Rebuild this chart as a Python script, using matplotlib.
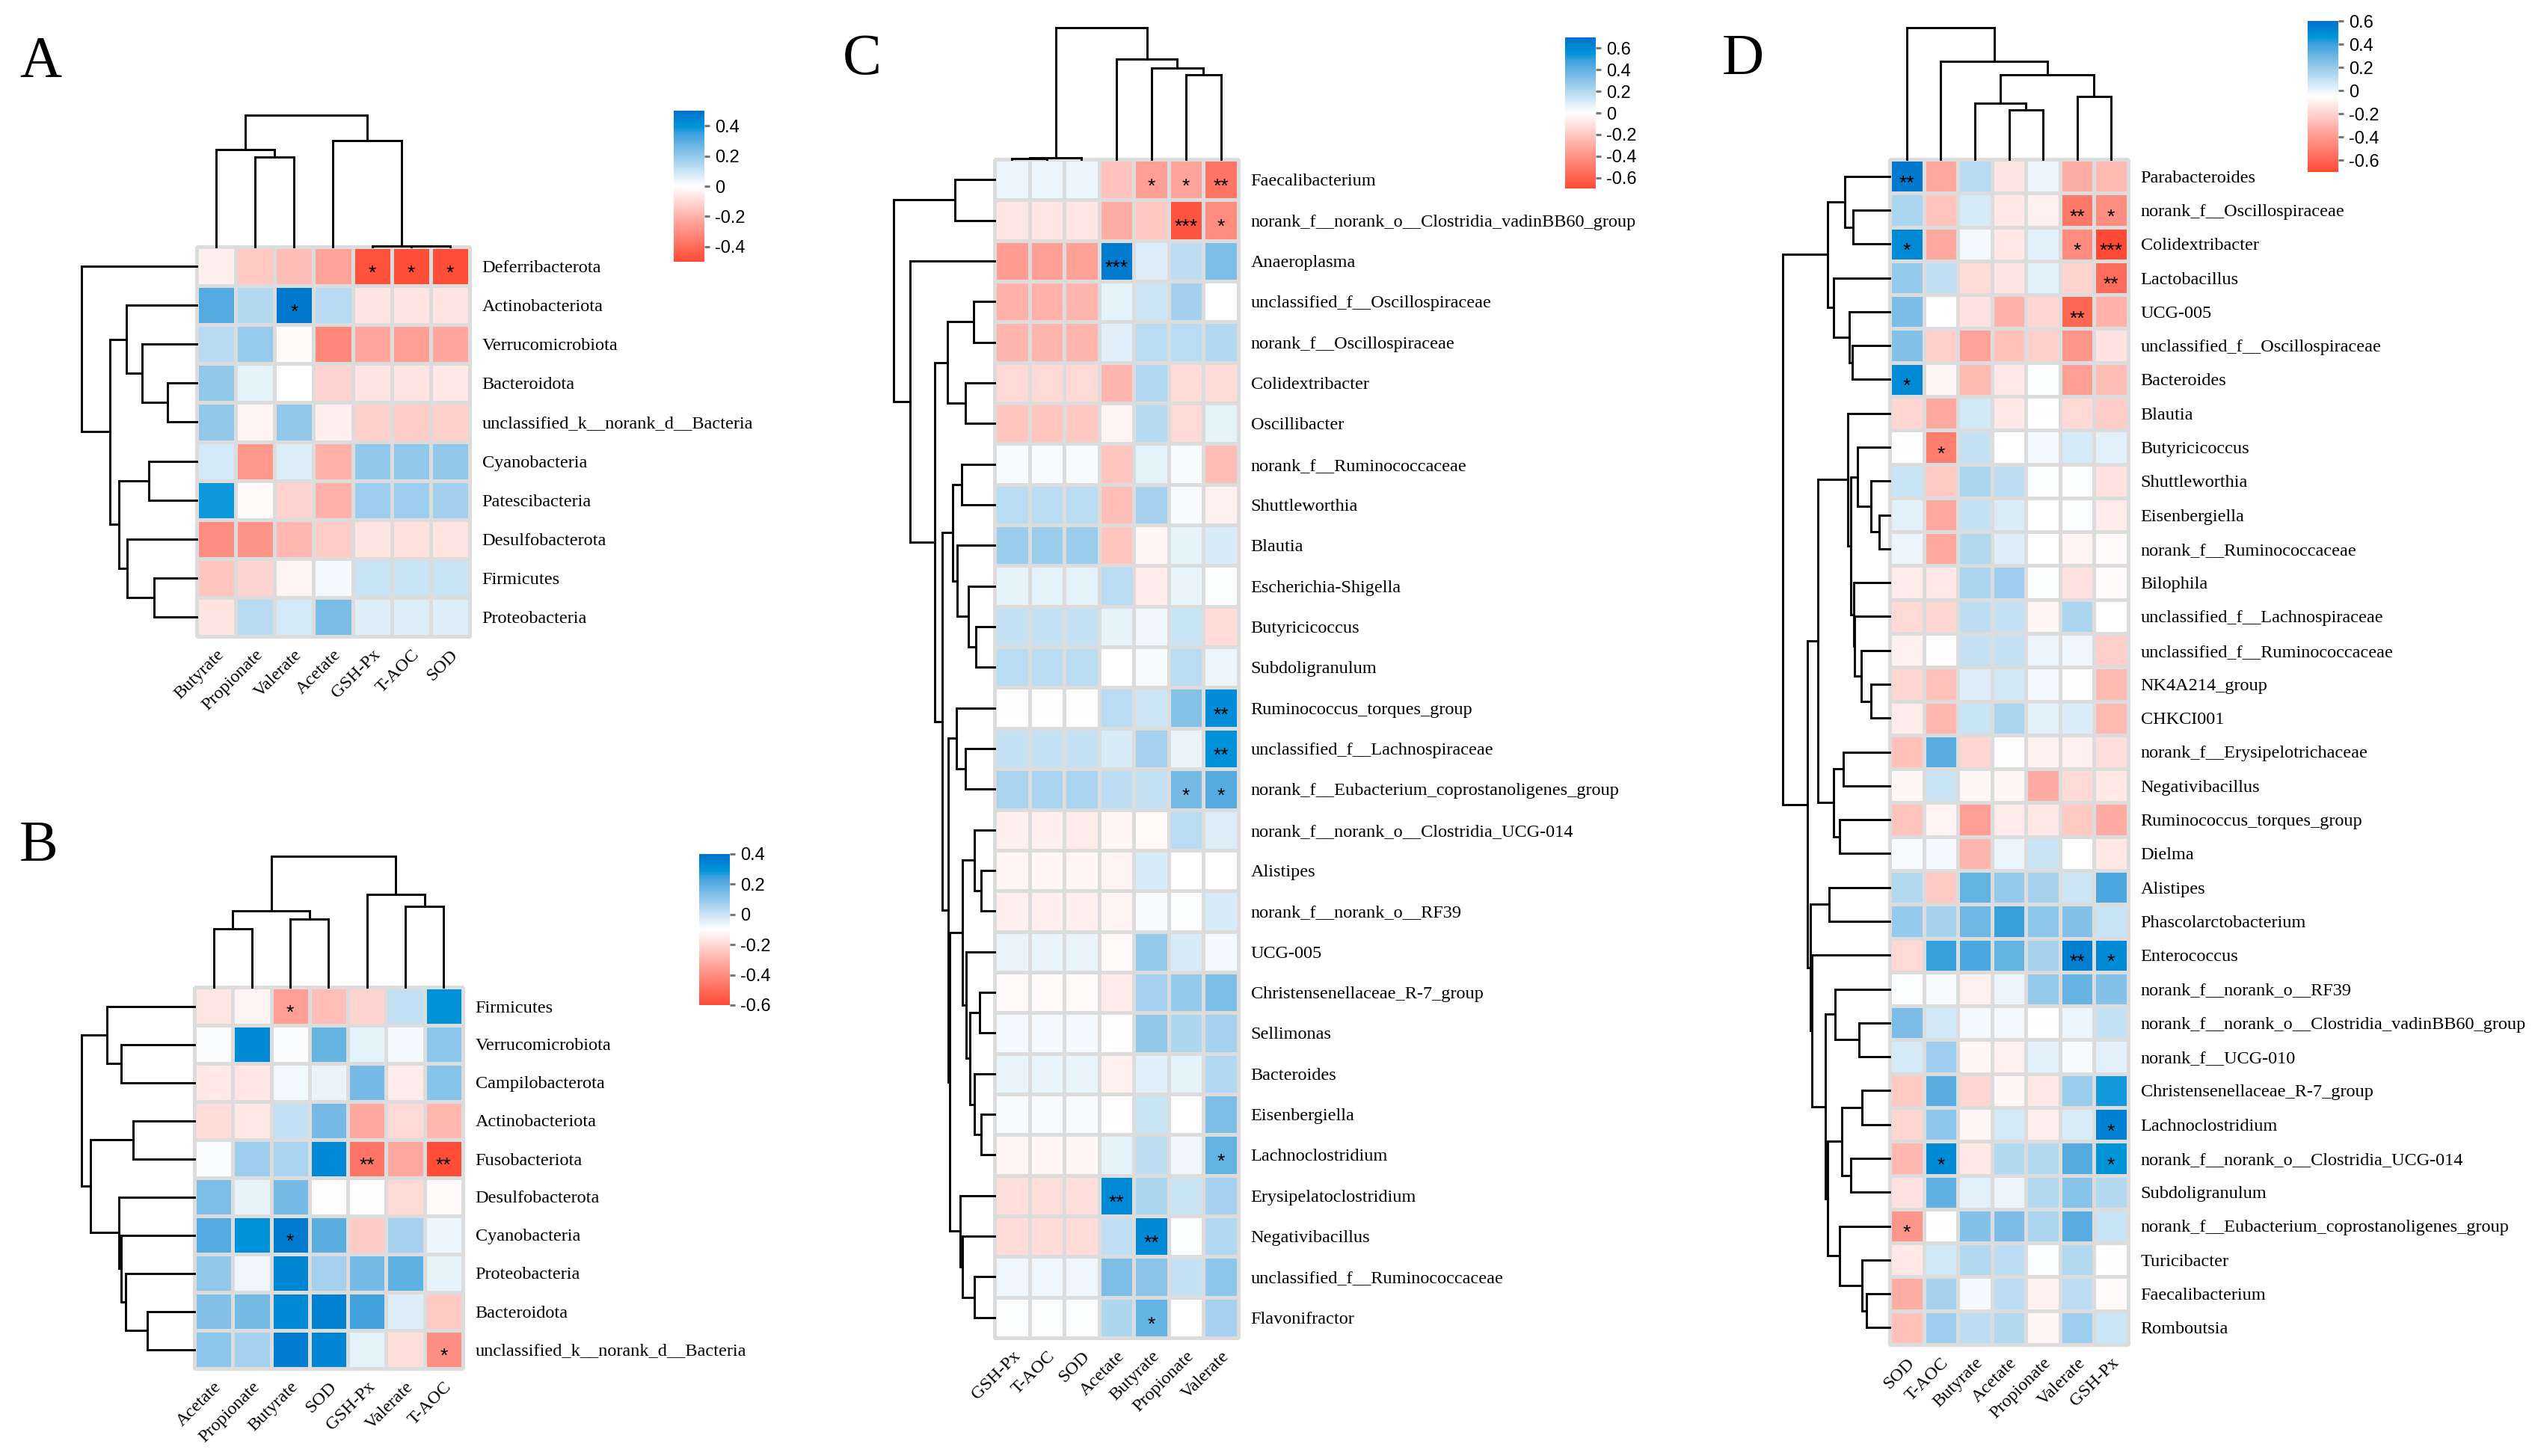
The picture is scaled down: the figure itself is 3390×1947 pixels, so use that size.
import matplotlib
matplotlib.use('Agg')
import matplotlib.pyplot as plt
import numpy as np
from matplotlib.cm import ScalarMappable
from matplotlib.colors import LinearSegmentedColormap, Normalize

W, H = 3391, 1947

# Panel A
a_rows = ['Deferribacterota', 'Actinobacteriota', 'Verrucomicrobiota', 'Bacteroidota',
          'unclassified_k__norank_d__Bacteria', 'Cyanobacteria', 'Patescibacteria',
          'Desulfobacterota', 'Firmicutes', 'Proteobacteria']
a_cols = ['Butyrate', 'Propionate', 'Valerate', 'Acetate', 'GSH-Px', 'T-AOC', 'SOD']
a_values = [
    [-0.04, -0.14, -0.17, -0.24, -0.48, -0.49, -0.49],
    [0.31, 0.14, 0.48, 0.13, -0.07, -0.07, -0.07],
    [0.13, 0.19, -0.01, -0.32, -0.23, -0.25, -0.23],
    [0.2, 0.05, 0.0, -0.11, -0.07, -0.07, -0.06],
    [0.2, -0.03, 0.2, -0.04, -0.12, -0.13, -0.12],
    [0.08, -0.27, 0.06, -0.2, 0.2, 0.2, 0.2],
    [0.38, -0.01, -0.11, -0.2, 0.18, 0.18, 0.17],
    [-0.3, -0.28, -0.18, -0.13, -0.07, -0.08, -0.07],
    [-0.15, -0.11, -0.03, 0.02, 0.1, 0.1, 0.1],
    [-0.07, 0.13, 0.08, 0.24, 0.06, 0.06, 0.06],
]
a_stars = [(0, 4, '*'), (0, 5, '*'), (0, 6, '*'), (1, 2, '*')]
a_col_tree = (282, (209, 0, (193, 1, 2)), (228, 3, (2, 4, (1, 5, 6))))
a_row_tree = (220, 0, (166, (135, 1, (104, 2, (55, 3, 4))),
                       (148, (91, 5, 6), (133, 7, (82, 8, 9)))))

# Panel B
b_rows = ['Firmicutes', 'Verrucomicrobiota', 'Campilobacterota', 'Actinobacteriota', 'Fusobacteriota',
          'Desulfobacterota', 'Cyanobacteria', 'Proteobacteria', 'Bacteroidota',
          'unclassified_k__norank_d__Bacteria']
b_cols = ['Acetate', 'Propionate', 'Butyrate', 'SOD', 'GSH-Px', 'Valerate', 'T-AOC']
b_values = [
    [-0.165, -0.13, -0.35, -0.265, -0.21, 0.01, 0.30],
    [-0.09, 0.325, -0.09, 0.175, -0.05, -0.08, 0.11],
    [-0.16, -0.165, -0.075, -0.06, 0.15, -0.15, 0.115],
    [-0.19, -0.16, 0.01, 0.15, -0.325, -0.2, -0.285],
    [-0.09, 0.08, 0.06, 0.325, -0.475, -0.325, -0.59],
    [0.135, -0.055, 0.15, -0.105, -0.105, -0.2, -0.115],
    [0.21, 0.3, 0.375, 0.2, -0.235, 0.065, -0.065],
    [0.1, -0.07, 0.34, 0.065, 0.15, 0.19, -0.055],
    [0.125, 0.15, 0.325, 0.35, 0.24, -0.04, -0.24],
    [0.11, 0.065, 0.365, 0.34, -0.05, -0.185, -0.4],
]
b_stars = [(0, 2, '*'), (4, 4, '**'), (4, 6, '**'), (6, 2, '*'), (9, 6, '*')]
b_col_tree = (290, (169, (129, 0, 1), (150, 2, 3)), (205, 4, (179, 5, 6)))
b_row_tree = (215, (167, 0, (139, 1, 2)),
              (198, (117, 3, 4), (144, 5, (139, 6, (131, 7, (90, 8, 9))))))

# Panel C
c_rows = ['Faecalibacterium', 'norank_f__norank_o__Clostridia_vadinBB60_group', 'Anaeroplasma',
          'unclassified_f__Oscillospiraceae', 'norank_f__Oscillospiraceae', 'Colidextribacter',
          'Oscillibacter', 'norank_f__Ruminococcaceae', 'Shuttleworthia', 'Blautia',
          'Escherichia-Shigella', 'Butyricicoccus', 'Subdoligranulum', 'Ruminococcus_torques_group',
          'unclassified_f__Lachnospiraceae', 'norank_f__Eubacterium_coprostanoligenes_group',
          'norank_f__norank_o__Clostridia_UCG-014', 'Alistipes', 'norank_f__norank_o__RF39', 'UCG-005',
          'Christensenellaceae_R-7_group', 'Sellimonas', 'Bacteroides', 'Eisenbergiella',
          'Lachnoclostridium', 'Erysipelatoclostridium', 'Negativibacillus',
          'unclassified_f__Ruminococcaceae', 'Flavonifractor']
c_cols = ['GSH-Px', 'T-AOC', 'SOD', 'Acetate', 'Butyrate', 'Propionate', 'Valerate']
c_values = [
    [0.05, 0.05, 0.05, -0.22, -0.35, -0.33, -0.53],
    [-0.09, -0.09, -0.09, -0.29, -0.2, -0.66, -0.43],
    [-0.36, -0.35, -0.34, 0.66, 0.09, 0.17, 0.33],
    [-0.28, -0.28, -0.27, 0.07, 0.13, 0.24, 0.0],
    [-0.27, -0.27, -0.27, 0.08, 0.18, 0.18, 0.2],
    [-0.14, -0.14, -0.14, -0.27, 0.2, -0.13, -0.13],
    [-0.21, -0.21, -0.2, -0.04, 0.19, -0.14, 0.07],
    [0.02, 0.02, 0.02, -0.21, 0.07, 0.02, -0.24],
    [0.18, 0.18, 0.18, -0.23, 0.23, 0.02, -0.05],
    [0.26, 0.26, 0.26, -0.21, -0.03, 0.07, 0.1],
    [0.07, 0.07, 0.07, 0.18, -0.07, 0.06, 0.01],
    [0.15, 0.15, 0.15, 0.07, 0.04, 0.14, -0.13],
    [0.18, 0.18, 0.18, 0.0, 0.02, 0.18, 0.05],
    [-0.01, -0.01, -0.01, 0.18, 0.13, 0.31, 0.59],
    [0.15, 0.15, 0.15, 0.1, 0.23, 0.06, 0.56],
    [0.22, 0.22, 0.22, 0.17, 0.15, 0.35, 0.43],
    [-0.06, -0.06, -0.07, -0.03, -0.02, 0.18, 0.09],
    [-0.03, -0.03, -0.03, -0.04, 0.1, 0.0, 0.0],
    [-0.06, -0.06, -0.06, -0.04, 0.02, 0.01, 0.1],
    [0.06, 0.06, 0.06, -0.02, 0.27, 0.1, 0.03],
    [-0.02, -0.02, -0.02, -0.07, 0.23, 0.27, 0.33],
    [0.03, 0.03, 0.03, -0.01, 0.28, 0.21, 0.23],
    [0.06, 0.06, 0.06, -0.05, 0.08, 0.07, 0.2],
    [0.02, 0.02, 0.02, -0.01, 0.14, 0.0, 0.33],
    [-0.03, -0.03, -0.03, 0.07, 0.17, 0.04, 0.39],
    [-0.12, -0.12, -0.12, 0.6, 0.21, 0.14, 0.23],
    [-0.13, -0.13, -0.13, 0.16, 0.6, 0.01, 0.2],
    [0.04, 0.04, 0.04, 0.33, 0.3, 0.15, 0.29],
    [0.01, 0.01, 0.01, 0.21, 0.39, 0.0, 0.23],
]
c_stars = [(0, 4, '*'), (0, 5, '*'), (0, 6, '**'), (1, 5, '***'), (1, 6, '*'), (2, 3, '***'),
           (13, 6, '**'), (14, 6, '**'), (15, 5, '*'), (15, 6, '*'), (24, 6, '*'),
           (25, 3, '**'), (26, 4, '**'), (28, 4, '*')]
c_col_tree = (275, (3, (2, 0, 1), 2), (210, 3, (190, 4, (176, 5, 6))))
c_row_tree = (192, (75, 0, 1),
              (161, 2,
               (114, (89, (40, 3, 4), (55, 5, 6)),
                (100,
                 (79, (63, 7, 8), (71, 9, (50, 10, (36, 11, 12)))),
                 (88, (72, 13, (55, 14, 15)),
                  (85,
                   (61, (38, 16, (26, 17, 18)),
                    (54, 19, (47, (29, 20, 21), (38, 22, (26, 23, 24))))),
                   (65, 25, (61, 26, (38, 27, 28)))))))))

# Panel D
d_rows = ['Parabacteroides', 'norank_f__Oscillospiraceae', 'Colidextribacter', 'Lactobacillus', 'UCG-005',
          'unclassified_f__Oscillospiraceae', 'Bacteroides', 'Blautia', 'Butyricicoccus', 'Shuttleworthia',
          'Eisenbergiella', 'norank_f__Ruminococcaceae', 'Bilophila', 'unclassified_f__Lachnospiraceae',
          'unclassified_f__Ruminococcaceae', 'NK4A214_group', 'CHKCI001', 'norank_f__Erysipelotrichaceae',
          'Negativibacillus', 'Ruminococcus_torques_group', 'Dielma', 'Alistipes', 'Phascolarctobacterium',
          'Enterococcus', 'norank_f__norank_o__RF39', 'norank_f__norank_o__Clostridia_vadinBB60_group',
          'norank_f__UCG-010', 'Christensenellaceae_R-7_group', 'Lachnoclostridium',
          'norank_f__norank_o__Clostridia_UCG-014', 'Subdoligranulum',
          'norank_f__Eubacterium_coprostanoligenes_group', 'Turicibacter', 'Faecalibacterium', 'Romboutsia']
d_cols = ['SOD', 'T-AOC', 'Butyrate', 'Acetate', 'Propionate', 'Valerate', 'GSH-Px']
d_values = [
    [0.57, -0.34, 0.12, -0.14, 0.0, -0.32, -0.28],
    [0.15, -0.25, 0.05, -0.13, -0.10, -0.52, -0.44],
    [0.50, -0.34, -0.02, -0.13, 0.02, -0.45, -0.7],
    [0.20, 0.10, -0.17, -0.14, 0.02, -0.2, -0.57],
    [0.26, -0.05, -0.15, -0.31, -0.19, -0.59, -0.31],
    [0.24, -0.21, -0.36, -0.26, -0.21, -0.41, -0.15],
    [0.50, -0.08, -0.28, -0.13, -0.04, -0.38, -0.27],
    [-0.19, -0.34, 0.06, -0.13, -0.06, -0.18, -0.22],
    [-0.06, -0.5, 0.09, -0.05, -0.02, 0.05, 0.02],
    [0.08, -0.23, 0.15, 0.11, -0.04, -0.04, -0.15],
    [0.02, -0.34, 0.09, 0.04, -0.05, -0.04, -0.12],
    [0.0, -0.34, 0.13, 0.03, -0.05, -0.09, -0.07],
    [-0.12, -0.13, 0.15, 0.18, -0.04, -0.15, -0.07],
    [-0.18, -0.19, 0.11, 0.09, -0.08, 0.15, -0.05],
    [-0.10, -0.06, 0.09, 0.09, 0.0, -0.01, -0.21],
    [-0.19, -0.26, 0.03, 0.06, -0.02, -0.06, -0.28],
    [-0.12, -0.29, 0.08, 0.15, 0.02, 0.04, -0.28],
    [-0.26, 0.34, -0.19, -0.06, -0.10, -0.10, -0.16],
    [-0.08, 0.08, -0.08, -0.08, -0.33, -0.18, -0.13],
    [-0.25, -0.09, -0.38, -0.12, -0.13, -0.23, -0.33],
    [-0.03, -0.02, -0.30, 0.0, 0.08, -0.05, -0.13],
    [0.13, -0.23, 0.32, 0.20, 0.16, 0.07, 0.37],
    [0.20, 0.16, 0.29, 0.41, 0.22, 0.24, 0.08],
    [-0.18, 0.41, 0.37, 0.32, 0.16, 0.55, 0.50],
    [-0.04, -0.03, -0.10, 0.0, 0.20, 0.31, 0.24],
    [0.26, 0.06, -0.02, -0.02, -0.06, 0.0, 0.09],
    [0.05, 0.18, -0.08, -0.10, 0.02, -0.03, 0.02],
    [-0.23, 0.34, -0.19, -0.08, -0.13, 0.19, 0.44],
    [-0.19, 0.22, -0.08, 0.05, -0.11, 0.04, 0.54],
    [-0.29, 0.50, -0.13, 0.13, 0.13, 0.35, 0.46],
    [-0.15, 0.33, 0.02, 0.0, 0.13, 0.23, 0.13],
    [-0.41, -0.06, 0.24, 0.26, 0.15, 0.34, 0.08],
    [-0.13, 0.06, 0.13, 0.11, -0.04, 0.13, -0.06],
    [-0.32, 0.16, -0.02, 0.11, -0.10, 0.11, -0.07],
    [-0.26, 0.18, 0.11, 0.13, -0.08, 0.18, 0.07],
]
d_stars = [(0, 0, '**'), (1, 5, '**'), (1, 6, '*'), (2, 0, '*'), (2, 5, '*'), (2, 6, '***'), (3, 6, '**'),
           (4, 5, '**'), (6, 0, '*'), (8, 1, '*'), (23, 5, '**'), (23, 6, '*'), (28, 6, '*'),
           (29, 1, '*'), (29, 6, '*'), (31, 0, '*')]
d_col_tree = (276, 0, (205, 1, (177, (117, 2, (103, 3, 4)), (131, 5, 6))))
d_row_tree = (204,
              (119, (86, 0, (70, 1, 2)), (107, 3, (77, 4, (72, 5, 6)))),
              (157,
               (137,
                (80, 7, (74, (62, 8, (36, 9, (20, 10, 11))),
                         (69, 12, (67, 13, (54, 14, (36, 15, 16)))))),
                (107, (89, 17, 18), (95, 19, 20))),
               (151, (116, 21, 22),
                (148, 23,
                 (122, (104, 24, (58, 25, 26)),
                  (119, (91, (53, 27, 28), (74, 29, 30)),
                   (95, 31, (53, 32, (44, 33, 34)))))))))

cmap = LinearSegmentedColormap.from_list(
    'rwb', [(0, '#ff4b35'), (0.25, '#ff9f95'), (0.5, '#ffffff'), (0.675, '#a0cfed'), (0.85, '#3da0dc'),
            (0.89, '#0096da'), (1, '#0072cc')])
LINE = 2.1
GRID = '#dcdcdc'


def px_axes(x0, y0, x1, y1):
    return plt.gcf().add_axes([x0 / W, 1 - y1 / H, (x1 - x0) / W, (y1 - y0) / H])


# Dibuja un nodo del arbol (altura, izquierda, derecha); las hojas son indices
def draw_tree(ax, node, top):
    if not isinstance(node, tuple):
        return node + 0.5, 0
    h, left, right = node
    p1, h1 = draw_tree(ax, left, top)
    p2, h2 = draw_tree(ax, right, top)
    xs, ys = [p1, p1, p2, p2], [h1, h, h, h2]
    if top:
        ax.plot(xs, ys, color='black', lw=LINE, solid_joinstyle='miter', clip_on=False)
    else:
        ax.plot(ys, xs, color='black', lw=LINE, solid_joinstyle='miter', clip_on=False)
    return (p1 + p2) / 2, h


def heat_panel(letter, letter_xy, rows, cols, values, stars, col_tree, row_tree,
               vmin, vmax, ticks, heat_box, col_size, row_size, bar_box):
    x0, y0, x1, y1 = heat_box
    values = np.array(values)
    norm = Normalize(vmin, vmax)

    ax = px_axes(x0, y0, x1, y1)
    ax.pcolormesh(np.arange(len(cols) + 1), np.arange(len(rows) + 1), values, cmap=cmap, norm=norm,
                  edgecolors=GRID, linewidth=2.2, clip_on=False)
    ax.set_xlim(0, len(cols))
    ax.set_ylim(len(rows), 0)
    for spine in ax.spines.values():
        spine.set_visible(False)
    ax.set_xticks(np.arange(len(cols)) + 0.5)
    ax.set_xticklabels(cols, rotation=45, ha='right', rotation_mode='anchor', family='Liberation Serif', fontsize=17.5)
    ax.yaxis.tick_right()
    ax.set_yticks(np.arange(len(rows)) + 0.5)
    ax.set_yticklabels(rows, family='Liberation Serif', fontsize=17.5)
    ax.tick_params(axis='x', length=0, pad=10)
    ax.tick_params(axis='y', length=0, pad=12)

    for r, c, s in stars:
        ax.annotate(s, (c + 0.5, r + 0.5), xytext=(0, -7), textcoords='offset points', ha='center', va='center',
                    family='Liberation Sans', fontsize=19, color='black')

    top = px_axes(x0, y0 - col_size, x1, y0)
    top.set_xlim(0, len(cols))
    top.set_ylim(0, col_tree[0])
    draw_tree(top, col_tree, True)
    top.axis('off')

    side = px_axes(x0 - row_size, y0, x0, y1)
    side.set_xlim(row_tree[0], 0)
    side.set_ylim(len(rows), 0)
    draw_tree(side, row_tree, False)
    side.axis('off')

    cax = px_axes(*bar_box)
    bar = plt.gcf().colorbar(ScalarMappable(norm=norm, cmap=cmap), cax=cax)
    bar.outline.set_visible(False)
    bar.set_ticks(ticks)
    bar.set_ticklabels(['%g' % t for t in ticks], family='Liberation Sans', fontsize=17)
    bar.ax.tick_params(length=5, width=2.2, color='#777777', pad=5)

    plt.gcf().text(letter_xy[0] / W, 1 - letter_xy[1] / H, letter, family='Liberation Serif', fontsize=56,
                   ha='left', va='baseline')


fig = plt.figure(figsize=(W / 100, H / 100), dpi=100)
heat_panel('A', (26, 102), a_rows, a_cols, a_values, a_stars, a_col_tree, a_row_tree,
           -0.5, 0.5, [-0.4, -0.2, 0, 0.2, 0.4], (263, 330, 628, 851), 176, 154, (901, 148, 942, 350))
heat_panel('B', (26, 1151), b_rows, b_cols, b_values, b_stars, b_col_tree, b_row_tree,
           -0.6, 0.4, [-0.6, -0.4, -0.2, 0, 0.2, 0.4], (260, 1320, 619, 1830), 175, 151, (935, 1142, 976, 1344))
heat_panel('C', (1127, 99), c_rows, c_cols, c_values, c_stars, c_col_tree, c_row_tree,
           -0.7, 0.7, [-0.6, -0.4, -0.2, 0, 0.2, 0.4, 0.6], (1330, 213, 1656, 1789), 176, 135, (2093, 50, 2134, 252))
heat_panel('D', (2303, 99), d_rows, d_cols, d_values, d_stars, d_col_tree, d_row_tree,
           -0.7, 0.6, [-0.6, -0.4, -0.2, 0, 0.2, 0.4, 0.6], (2527, 213, 2846, 1798), 176, 143, (3086, 28, 3127, 230))
fig.savefig('out.png', dpi=100)
